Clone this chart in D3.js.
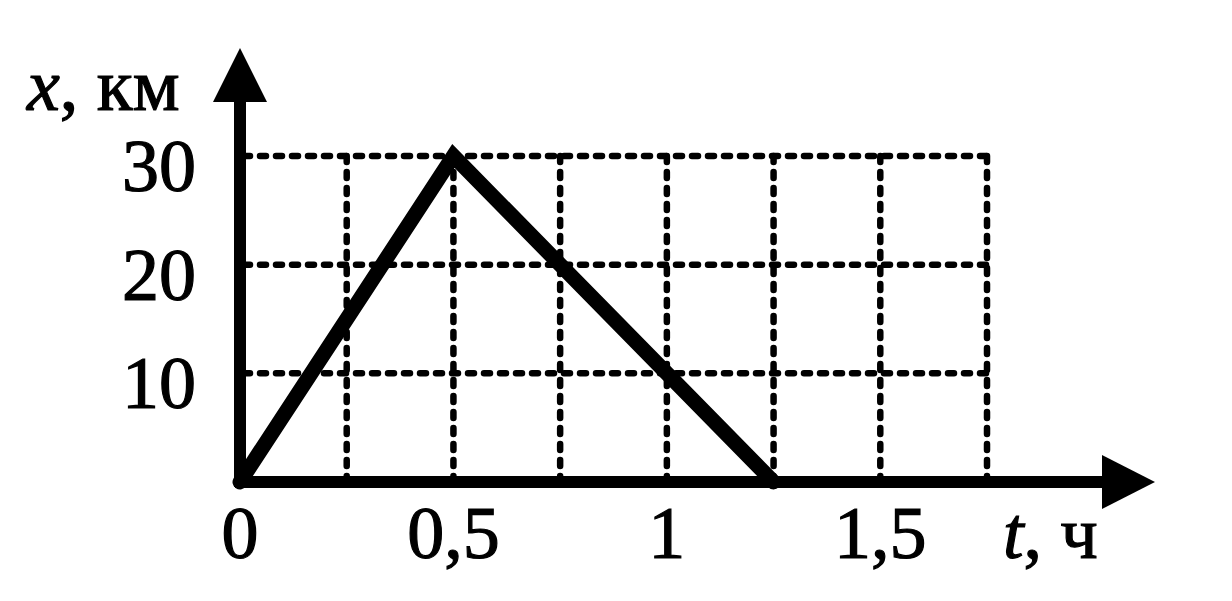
<!DOCTYPE html>
<html><head><meta charset="utf-8">
<script src="https://cdn.jsdelivr.net/npm/d3@7"></script>
<style>html,body{margin:0;padding:0;background:#fff;}svg{display:block;}</style>
</head><body>
<svg id="chart" width="1232" height="601"></svg>
<script>
// data
const times = [0, 0.5, 1.25];          // t, h
const positions = [0, 30, 0];          // x, km
const xTickValues = [0, 0.5, 1, 1.5];
const xTickLabels = ["0", "0,5", "1", "1,5"];
const yTickValues = [10, 20, 30];
const yTickLabels = ["10", "20", "30"];
const xGridValues = [0.25, 0.5, 0.75, 1, 1.25, 1.5, 1.75];
const yGridValues = [10, 20, 30];

const svg = d3.select("#chart");
const x = d3.scaleLinear().domain([0, 1.75]).range([240, 987]);
const y = d3.scaleLinear().domain([0, 30]).range([482, 156]);
const font = "'Liberation Serif','Times New Roman',serif";
const fs = 74;

// grid
const g = svg.append("g").attr("stroke", "#000").attr("stroke-width", 6.5)
  .attr("stroke-dasharray", "6,10").attr("stroke-linecap", "round").attr("fill", "none");
yGridValues.forEach(v => {
  g.append("line").attr("x1", x(0) + 4).attr("x2", x(1.75)).attr("y1", y(v)).attr("y2", y(v));
});
xGridValues.forEach(v => {
  g.append("line").attr("x1", x(v)).attr("x2", x(v)).attr("y1", y(30)).attr("y2", y(0));
});

// axes
svg.append("line").attr("x1", x(0) - 5).attr("x2", 1110).attr("y1", y(0)).attr("y2", y(0))
  .attr("stroke", "#000").attr("stroke-width", 12);
svg.append("line").attr("x1", x(0)).attr("x2", x(0)).attr("y1", y(0) + 5).attr("y2", 95)
  .attr("stroke", "#000").attr("stroke-width", 12);
// arrows
svg.append("path").attr("d", `M1155,${y(0)} L1102,${y(0) - 27} L1102,${y(0) + 27} Z`).attr("fill", "#000");
svg.append("path").attr("d", `M${x(0)},48 L${x(0) - 27},102 L${x(0) + 27},102 Z`).attr("fill", "#000");

// data line
const line = d3.line().x((d, i) => x(times[i])).y((d, i) => y(positions[i]));
svg.append("path").datum(times).attr("d", line)
  .attr("fill", "none").attr("stroke", "#000").attr("stroke-width", 15)
  .attr("stroke-linejoin", "miter").attr("stroke-linecap", "round");

// tick labels
svg.selectAll("text.yt").data(yTickValues).enter().append("text")
  .attr("x", 196).attr("y", d => y(d) + 35)
  .attr("text-anchor", "end").attr("font-family", font).attr("font-size", fs)
  .attr("stroke", "#000").attr("stroke-width", 1.2)
  .text((d, i) => yTickLabels[i]);
svg.selectAll("text.xt").data(xTickValues).enter().append("text")
  .attr("x", d => x(d)).attr("y", 558)
  .attr("text-anchor", "middle").attr("font-family", font).attr("font-size", fs)
  .attr("stroke", "#000").attr("stroke-width", 1.2)
  .text((d, i) => xTickLabels[i]);

// axis titles
const yt = svg.append("text").attr("x", 27).attr("y", 110).attr("font-family", font).attr("font-size", fs)
  .attr("stroke", "#000").attr("stroke-width", 1.2);
yt.append("tspan").attr("font-style", "italic").text("x");
yt.append("tspan").text(", км");
const xt = svg.append("text").attr("x", 1003).attr("y", 558).attr("font-family", font).attr("font-size", fs)
  .attr("stroke", "#000").attr("stroke-width", 1.2);
xt.append("tspan").attr("font-style", "italic").text("t");
xt.append("tspan").text(", ч");
</script>
</body></html>
